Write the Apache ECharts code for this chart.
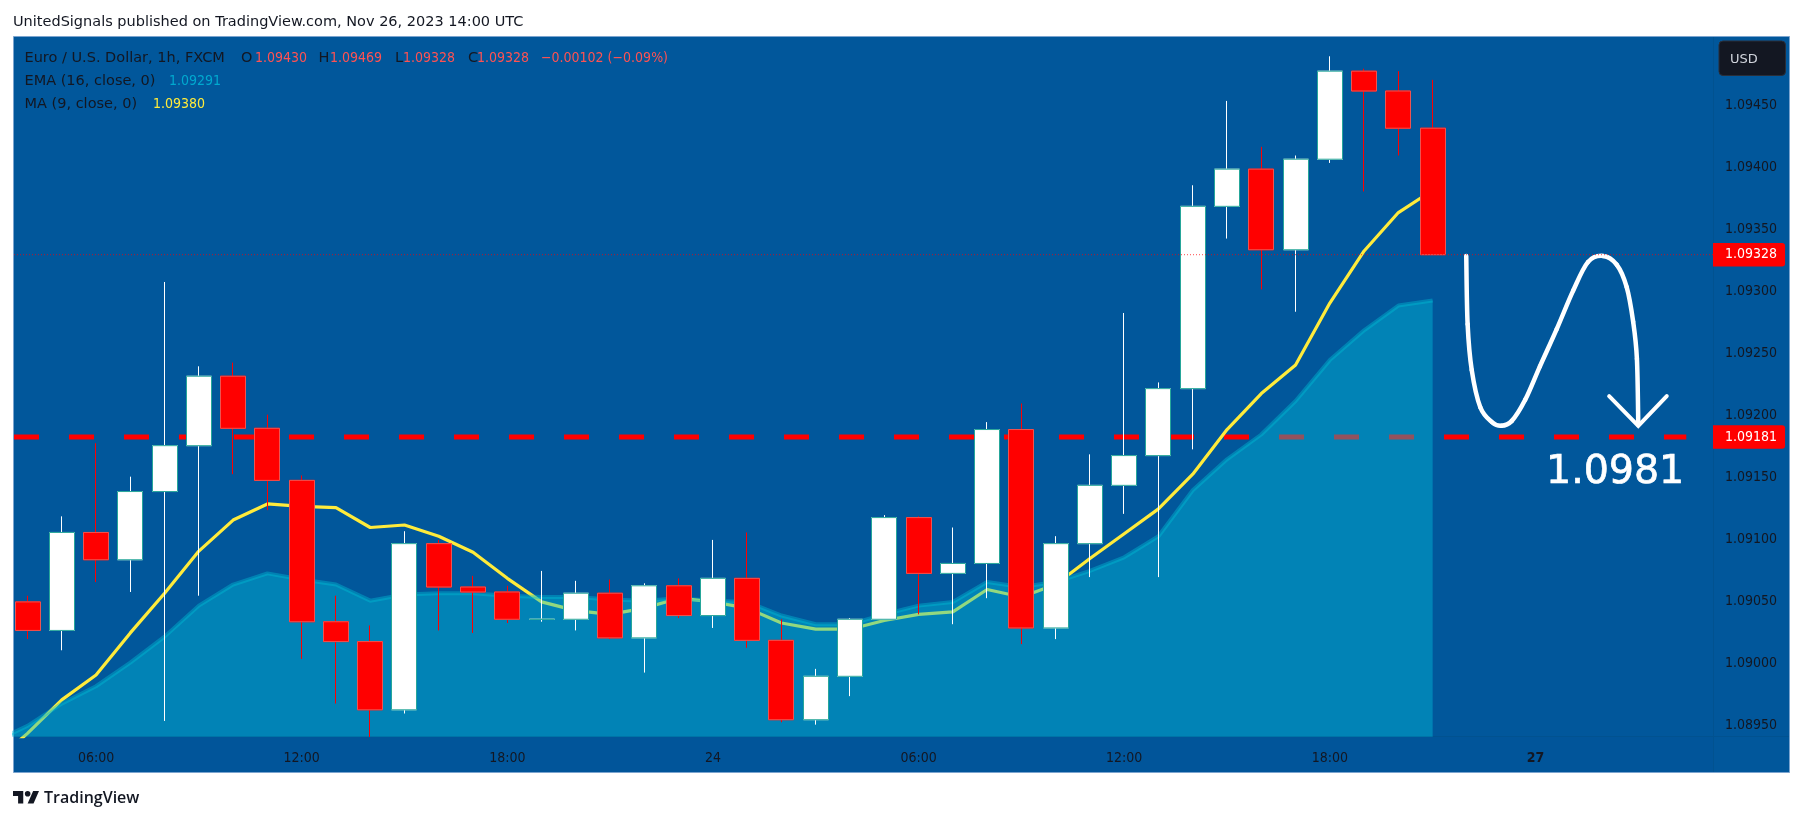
<!DOCTYPE html>
<html><head><meta charset="utf-8"><title>EUR/USD 1h</title>
<style>html,body{margin:0;padding:0;background:#fff}#c{width:1804px;height:821px}</style>
<script src="https://cdn.jsdelivr.net/npm/echarts@6/dist/echarts.min.js"></script></head>
<body><div id="c"></div>
<script>
// Hourly candles, Nov 23 04:00 to Nov 24 21:00 UTC
var opens  = [1.09048,1.09025,1.09104,1.09082,1.09137,1.09174,1.09230,1.09188,1.09146,1.09032,1.09016,1.08961,1.09095,1.09060,1.09056,1.09034,1.09034,1.09055,1.09019,1.09061,1.09037,1.09067,1.09017,1.08953,1.08988,1.09034,1.09116,1.09071,1.09079,1.09187,1.09027,1.09095,1.09142,1.09166,1.09220,1.09367,1.09397,1.09332,1.09405,1.09476,1.09460,1.09430];
var closes = [1.09025,1.09104,1.09082,1.09137,1.09174,1.09230,1.09188,1.09146,1.09032,1.09016,1.08961,1.09095,1.09060,1.09056,1.09034,1.09034,1.09055,1.09019,1.09061,1.09037,1.09067,1.09017,1.08953,1.08988,1.09034,1.09116,1.09071,1.09079,1.09187,1.09027,1.09095,1.09142,1.09166,1.09220,1.09367,1.09397,1.09332,1.09405,1.09476,1.09460,1.09430,1.09328];
var lows   = [1.09018,1.09009,1.09064,1.09056,1.08952,1.09053,1.09151,1.09122,1.09002,1.08966,1.08939,1.08958,1.09025,1.09023,1.09031,1.09032,1.09025,1.09018,1.08991,1.09035,1.09027,1.09011,1.08951,1.08949,1.08972,1.09034,1.09038,1.09030,1.09051,1.09014,1.09018,1.09068,1.09119,1.09068,1.09171,1.09341,1.09300,1.09282,1.09402,1.09379,1.09408,1.09328];
var highs  = [1.09053,1.09117,1.09176,1.09149,1.09306,1.09238,1.09241,1.09199,1.09150,1.09053,1.09029,1.09105,1.09098,1.09069,1.09061,1.09073,1.09065,1.09066,1.09063,1.09067,1.09098,1.09104,1.09034,1.08994,1.09035,1.09118,1.09117,1.09108,1.09193,1.09208,1.09101,1.09167,1.09281,1.09225,1.09384,1.09452,1.09415,1.09408,1.09488,1.09478,1.09476,1.09469];
// Moving averages; the first value belongs to the bar before the visible range
var emaValues = [1.08935,1.08948,1.08966,1.08980,1.08999,1.09020,1.09045,1.09062,1.09071,1.09066,1.09062,1.09049,1.09054,1.09055,1.09055,1.09053,1.09052,1.09052,1.09050,1.09049,1.09051,1.09049,1.09048,1.09037,1.09030,1.09030,1.09038,1.09045,1.09048,1.09064,1.09060,1.09064,1.09073,1.09084,1.09101,1.09138,1.09163,1.09183,1.09210,1.09243,1.09267,1.09287,1.09291];
var maValues  = [1.08918,1.08942,1.08969,1.08989,1.09023,1.09055,1.09089,1.09114,1.09127,1.09125,1.09124,1.09108,1.09110,1.09101,1.09088,1.09067,1.09048,1.09041,1.09038,1.09043,1.09051,1.09048,1.09043,1.09031,1.09026,1.09026,1.09033,1.09038,1.09040,1.09058,1.09052,1.09062,1.09083,1.09103,1.09123,1.09151,1.09187,1.09216,1.09239,1.09289,1.09331,1.09362,1.09380];
var supportLevel = 1.09181, lastClose = 1.09328;
var priceTicks = [1.0895,1.0900,1.0905,1.0910,1.0915,1.0920,1.0925,1.0930,1.0935,1.0940,1.0945];
var timeTickBars = [2,8,14,20,26,32,38,44];
var timeTickLabels = ['06:00','12:00','18:00','24','06:00','12:00','18:00','27'];
// Hand-drawn forecast annotation: bar position, price
var sketchBars   = [41.98,42.02,42.14,42.39,42.73,43.0,43.31,43.70,44.13,44.62,45.10,45.53,45.97,46.37,46.66,46.85,46.96,47.0];
var sketchPrices = [1.09327,1.09272,1.09235,1.09205,1.09193,1.09190,1.09194,1.09211,1.09238,1.09268,1.09299,1.09322,1.09327,1.09320,1.09302,1.09274,1.09244,1.09191];
var arrowBars    = [46.15,47.0,47.83];
var arrowPrices  = [1.09214,1.09190,1.09214];
var dashEndBar = 48.4;

var xMin = -0.394, xMax = 49.18, yMin = 1.089393, yMax = 1.095038;
var WIDE = '"DejaVu Sans"', NUM = '"DejaVu Sans Condensed","Liberation Sans"', DARK = '#131722', RED = '#ff5252';
var wideFont = '14.5px '+WIDE, numFont = '14px '+NUM;

var candleRows = opens.map(function(o,i){return [i,o,closes[i],lows[i],highs[i]];});
var bodyRows   = opens.map(function(o,i){return [i,o,closes[i],Math.min(o,closes[i]),Math.max(o,closes[i])];});
var emaRows = emaValues.map(function(v,i){return [i-1,v];});
var maRows  = maValues.map(function(v,i){return [i-1,v];});
var zip = function(a,b){return a.map(function(v,i){return [v,b[i]];});};
var sketchRows = zip(sketchBars,sketchPrices);

function txt(x,y,s,fill,font,extra){
  var st = {text:s,fill:fill,font:font||wideFont,textVerticalAlign:'middle'};
  for (var k in extra||{}) st[k]=extra[k];
  return {type:'text',x:x,y:y,z:20,style:st};
}
var graphics = [
  {type:'rect',z:-5,shape:{x:13.5,y:36.5,width:1776,height:736},style:{fill:'#01579B',stroke:'#7ba4cf',lineWidth:1}},
  {type:'rect',z:-4,shape:{x:14,y:736,width:1699,height:36},style:{fill:'#01559a'}},
  {type:'line',z:-3,shape:{x1:1713.5,y1:37,x2:1713.5,y2:772},style:{stroke:'#015290',lineWidth:1}},
  {type:'line',z:-3,shape:{x1:14,y1:736.5,x2:1789,y2:736.5},style:{stroke:'#015290',lineWidth:1}},
  txt(13,22,'UnitedSignals published on TradingView.com, Nov 26, 2023 14:00 UTC',DARK),
  txt(24.5,58,'Euro / U.S. Dollar, 1h, FXCM',DARK),
  txt(241,58,'O',DARK), txt(255,58,'1.09430',RED,numFont),
  txt(318.5,58,'H',DARK), txt(330,58,'1.09469',RED,numFont),
  txt(395,58,'L',DARK), txt(403,58,'1.09328',RED,numFont),
  txt(468,58,'C',DARK), txt(477,58,'1.09328',RED,numFont),
  txt(541,58,'\u22120.00102 (\u22120.09%)',RED,numFont),
  txt(24.5,81,'EMA (16, close, 0)',DARK), txt(169,81,'1.09291','#00a9cf',numFont),
  txt(24.5,104,'MA (9, close, 0)',DARK), txt(153,104,'1.09380','#FFEB3B',numFont),
  {type:'rect',z:20,shape:{x:1719,y:41,width:66.5,height:34.5,r:4},style:{fill:'#131722',stroke:'#2a2e39',lineWidth:1}},
  txt(1730,60,'USD','#d1d4dc','13px '+WIDE),
  txt(1546,473,'1.0981','#ffffff','39.5px '+WIDE,{stroke:'#ffffff',lineWidth:0.7}),
  {type:'polygon',z:20,shape:{points:[[13,791],[23.25,791],[23.25,803.5],[18.1,803.5],[18.1,795.9],[13,795.9]]},style:{fill:DARK}},
  {type:'polygon',z:20,shape:{points:[[27.65,803.5],[33.14,791],[39,791],[33.5,803.5]]},style:{fill:DARK}},
  {type:'circle',z:20,shape:{cx:27.65,cy:793.8,r:2.8},style:{fill:DARK}},
  txt(44,798,'TradingView',DARK,'600 16px "Open Sans"')
];

// Catmull-Rom segments through the sketch points, drawn through the axes
function renderSketch(params,api){
  var i = params.dataIndex, n = sketchRows.length;
  if (i >= n-1) return null;
  var p0 = api.coord(sketchRows[Math.max(i-1,0)]), p1 = api.coord(sketchRows[i]),
      p2 = api.coord(sketchRows[i+1]), p3 = api.coord(sketchRows[Math.min(i+2,n-1)]);
  return {type:'bezierCurve',
    shape:{x1:p1[0],y1:p1[1],x2:p2[0],y2:p2[1],
      cpx1:p1[0]+(p2[0]-p0[0])/6,cpy1:p1[1]+(p2[1]-p0[1])/6,
      cpx2:p2[0]-(p3[0]-p1[0])/6,cpy2:p2[1]-(p3[1]-p1[1])/6},
    style:{stroke:'#ffffff',lineWidth:4.5,lineCap:'round',fill:null}};
}

var option = {
  animation:false,
  backgroundColor:'#ffffff',
  graphic:graphics,
  grid:{left:14,top:36.7,width:1699,height:700,containLabel:false,show:false},
  tooltip:{show:false},
  xAxis:{type:'value',min:xMin,max:xMax,
    axisLine:{show:false},axisTick:{show:false},splitLine:{show:false},
    axisLabel:{customValues:timeTickBars,margin:14.3,fontFamily:NUM,fontSize:14,color:DARK,
      formatter:function(v){var k=timeTickLabels[timeTickBars.indexOf(v)];return k==='27'?'{b|27}':k;},
      rich:{b:{fontWeight:'bold',fontFamily:NUM,fontSize:14,color:DARK}}}},
  yAxis:{type:'value',position:'right',min:yMin,max:yMax,scale:true,
    axisLine:{show:false},axisTick:{show:false},splitLine:{show:false},
    axisLabel:{customValues:priceTicks,margin:12,fontFamily:NUM,fontSize:14,color:DARK,
      formatter:function(v){return '{p|'+v.toFixed(5)+'}';},
      rich:{p:{fontFamily:NUM,fontSize:14,color:DARK,padding:[3.5,0,0,0]}}}},
  series:[
    {name:'Support',type:'line',z:2,symbol:'none',silent:true,
     data:[[xMin,supportLevel],[dashEndBar,supportLevel]],
     lineStyle:{color:'#ff0000',width:5,type:[25,30],cap:'butt'}},
    {name:'MA 9',type:'line',z:3,symbol:'none',silent:true,data:maRows,
     lineStyle:{color:'#FFEB3B',width:3.2}},
    {name:'EMA 16',type:'line',z:4,symbol:'none',silent:true,data:emaRows,
     lineStyle:{color:'rgba(0,188,212,0.42)',width:4},
     areaStyle:{color:'rgba(3,190,218,0.43)',opacity:1,origin:'start'}},
    {name:'Wicks',type:'candlestick',z:5,silent:true,barWidth:25.5,data:candleRows,
     encode:{x:0,y:[1,2,3,4]},
     itemStyle:{color:'#ffffff',color0:'#ff0000',borderColor:'#ffffff',borderColor0:'#ff0000',borderColorDoji:'#ffffff',borderWidth:1}},
    {name:'Bodies',type:'candlestick',z:6,silent:true,barWidth:25.5,data:bodyRows,
     encode:{x:0,y:[1,2,3,4]},
     itemStyle:{color:'#ffffff',color0:'#ff0000',borderColor:'#26a69a',borderColor0:'#ef5350',borderColorDoji:'#26a69a',borderWidth:1}},
    {name:'Forecast',type:'custom',z:7,silent:true,clip:false,data:sketchRows,
     encode:{x:0,y:1},renderItem:renderSketch},
    {name:'Arrow head',type:'line',z:7,symbol:'none',silent:true,clip:false,
     data:zip(arrowBars,arrowPrices),
     lineStyle:{color:'#ffffff',width:4,cap:'round',join:'miter'}},
    {name:'Last price line',type:'line',z:8,symbol:'none',silent:true,
     data:[[xMin,lastClose],[xMax,lastClose]],
     lineStyle:{color:'rgba(255,0,0,0.7)',width:1,type:[1,2]}},
    {name:'Price tags',type:'scatter',z:9,silent:true,clip:false,symbolSize:0,
     itemStyle:{opacity:1},
     data:[[xMax,lastClose],[xMax,supportLevel]],
     label:{show:true,position:'right',distance:0,
       formatter:function(p){return p.value[1].toFixed(5);},
       color:'#ffffff',fontFamily:NUM,fontSize:14,lineHeight:15.5,
       backgroundColor:'#ff0000',borderRadius:[0,3,3,0],
       padding:[4,8,4,12]}}
  ]
};
var chart = echarts.init(document.getElementById('c'),null,{renderer:'canvas',width:1804,height:821});
chart.setOption(option);
</script></body></html>
